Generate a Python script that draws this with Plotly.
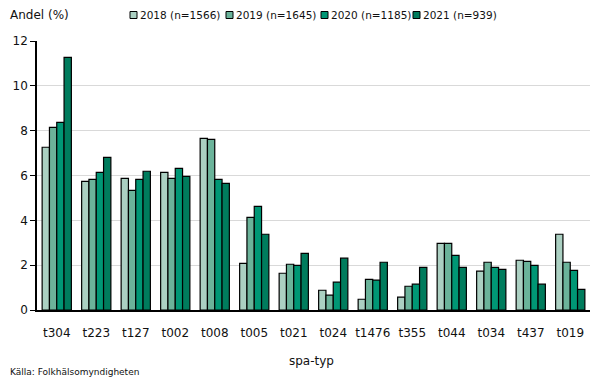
import plotly.graph_objects as go

categories = ["t304", "t223", "t127", "t002", "t008", "t005", "t021", "t024",
              "t1476", "t355", "t044", "t034", "t437", "t019"]
series_names = ["2018 (n=1566)", "2019 (n=1645)", "2020 (n=1185)", "2021 (n=939)"]
v2018 = [7.26, 5.74, 5.87, 6.14, 7.66, 2.08, 1.64, 0.88, 0.48, 0.57, 2.97, 1.73, 2.22, 3.38]
v2019 = [8.15, 5.83, 5.34, 5.87, 7.61, 4.13, 2.04, 0.66, 1.37, 1.06, 2.97, 2.13, 2.17, 2.13]
v2020 = [8.37, 6.14, 5.83, 6.32, 5.83, 4.62, 1.99, 1.24, 1.33, 1.15, 2.44, 1.90, 1.99, 1.77]
v2021 = [11.27, 6.81, 6.19, 5.96, 5.65, 3.38, 2.53, 2.31, 2.13, 1.90, 1.90, 1.81, 1.15, 0.92]
colors = ["#abd0c2", "#6bb39a", "#009775", "#007c5d"]
y_ticks = [0, 2, 4, 6, 8, 10, 12]

FONT = "DejaVu Sans"
W, H = 605, 379
ML, MR, MT, MB = 37, 15, 41, 69
pw, ph = W - ML - MR, H - MT - MB

fig = go.Figure()
for name, vals, col in zip(series_names, [v2018, v2019, v2020, v2021], colors):
    fig.add_trace(go.Bar(x=categories, y=vals, name=name, marker_color=col,
                         marker_line_color="black", marker_line_width=1.2,
                         showlegend=False))

# custom compact legend
leg_x = [130, 226, 321, 413]
leg_y = 15
for lx, name, col in zip(leg_x, series_names, colors):
    x0 = (lx - ML) / pw
    x1 = (lx + 7 - ML) / pw
    y0 = (H - MB - (leg_y + 3.5)) / ph
    y1 = (H - MB - (leg_y - 3.5)) / ph
    fig.add_shape(type="rect", xref="paper", yref="paper", x0=x0, x1=x1, y0=y0, y1=y1,
                  fillcolor=col, line=dict(color="black", width=1))
    fig.add_annotation(text=name, xref="paper", yref="paper", x=(lx + 8 - ML) / pw,
                       y=(H - MB - leg_y) / ph, xanchor="left", yanchor="middle",
                       showarrow=False, font=dict(family=FONT, size=10.5, color="#111"))

fig.add_annotation(text="Andel (%)", xref="paper", yref="paper", x=(8 - ML) / pw,
                   y=(H - MB - 15) / ph, xanchor="left", yanchor="middle",
                   showarrow=False, font=dict(family=FONT, size=12, color="#111"))
fig.add_annotation(text="spa-typ", xref="paper", yref="paper", x=(311 - ML) / pw,
                   y=(H - MB - 361) / ph, xanchor="center", yanchor="middle",
                   showarrow=False, font=dict(family=FONT, size=12, color="#111"))
fig.add_annotation(text="Källa: Folkhälsomyndigheten", xref="paper", yref="paper",
                   x=(8 - ML) / pw, y=(H - MB - 372) / ph, xanchor="left", yanchor="middle",
                   showarrow=False, font=dict(family=FONT, size=9, color="#111"))

fig.update_layout(
    width=W, height=H, barmode="group", bargap=0.26, bargroupgap=0,
    margin=dict(l=ML, r=MR, t=MT, b=MB),
    plot_bgcolor="white", paper_bgcolor="white",
    font=dict(family=FONT, size=12, color="#111"),
    xaxis=dict(showline=True, linecolor="black", linewidth=1.5, ticks="outside",
               ticklen=11, tickcolor="rgba(0,0,0,0)", tickfont=dict(size=12)),
    yaxis=dict(range=[0, 12], tickvals=y_ticks, showline=True, linecolor="black",
               linewidth=1.5, ticks="outside", ticklen=5, tickcolor="black",
               showgrid=True, gridcolor="#d9d9d9", gridwidth=1, zeroline=False,
               tickfont=dict(size=12)),
)

fig.write_html("out.html", config={"displayModeBar": False},
               post_script="document.body.style.margin='0px';document.body.style.overflow='hidden';")
